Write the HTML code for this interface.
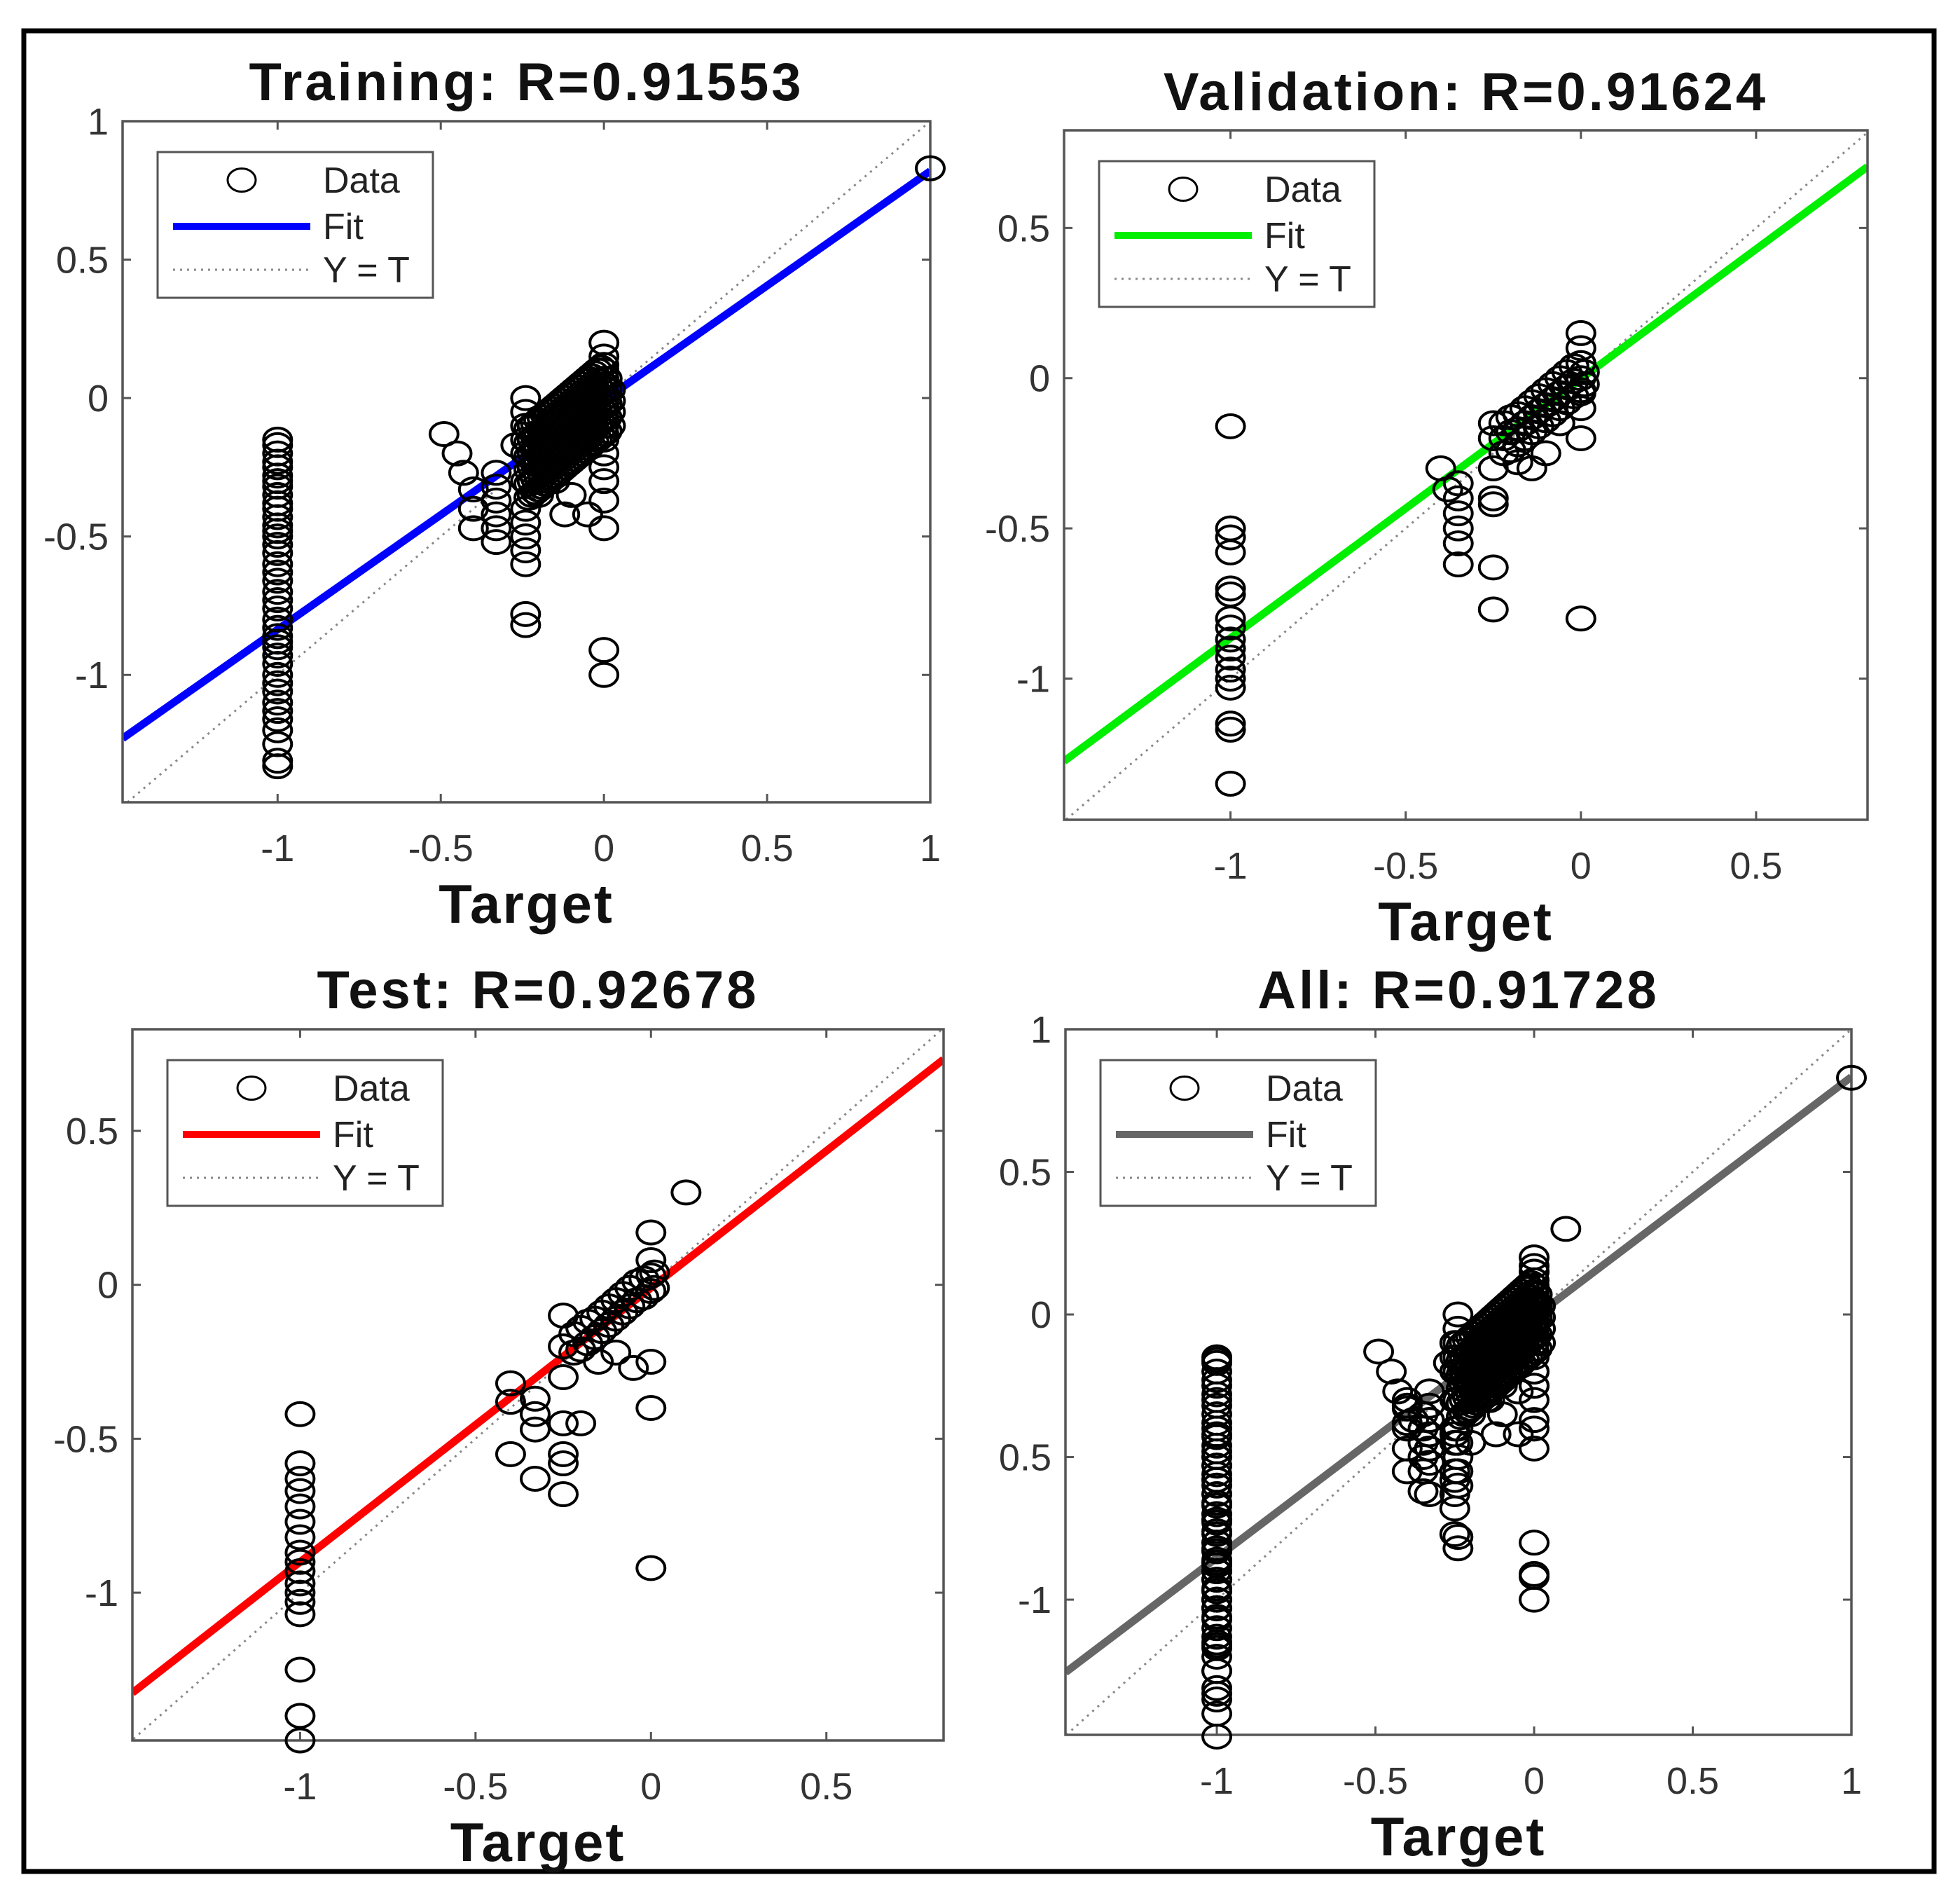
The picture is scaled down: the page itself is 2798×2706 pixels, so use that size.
<!DOCTYPE html>
<html><head><meta charset="utf-8"><style>html,body{margin:0;padding:0;background:#fff}svg{display:block}</style></head>
<body>
<svg id="fig" xmlns="http://www.w3.org/2000/svg" width="2798" height="2706" viewBox="0 0 2798 2706" font-family="Liberation Sans, Arial, sans-serif">
<rect x="0" y="0" width="2798" height="2706" fill="#fff"/>
<rect x="34" y="44" width="2727" height="2627" fill="none" stroke="#000" stroke-width="7"/>
</svg>
<script>
// ---- data ----
const trainPts=[[-1,-0.15],[-1,-0.17],[-1,-0.2],[-1,-0.23],[-1,-0.25],[-1,-0.28],[-1,-0.3],[-1,-0.32],[-1,-0.35],[-1,-0.38],[-1,-0.4],[-1,-0.43],[-1,-0.46],[-1,-0.48],[-1,-0.5],[-1,-0.53],[-1,-0.56],[-1,-0.6],[-1,-0.63],[-1,-0.66],[-1,-0.7],[-1,-0.73],[-1,-0.76],[-1,-0.8],[-1,-0.83],[-1,-0.86],[-1,-0.88],[-1,-0.9],[-1,-0.93],[-1,-0.96],[-1,-1.0],[-1,-1.03],[-1,-1.06],[-1,-1.1],[-1,-1.13],[-1,-1.16],[-1,-1.2],[-1,-1.25],[-1,-1.31],[-1,-1.33],
[-0.49,-0.13],[-0.45,-0.2],[-0.43,-0.27],[-0.4,-0.33],[-0.4,-0.4],[-0.4,-0.47],
[-0.33,-0.27],[-0.33,-0.32],[-0.33,-0.37],[-0.33,-0.42],[-0.33,-0.47],[-0.33,-0.52],
[-0.24,0],[-0.24,-0.05],[-0.24,-0.1],[-0.24,-0.15],[-0.24,-0.2],[-0.24,-0.3],[-0.24,-0.4],[-0.24,-0.45],[-0.24,-0.5],[-0.24,-0.55],[-0.24,-0.6],[-0.24,-0.78],[-0.24,-0.82],
[0,0.2],[0,0.15],[0,0.1],[0,0.05],[0,0],[0,-0.05],[0,-0.1],[0,-0.15],[0,-0.2],[0,-0.25],[0,-0.3],[0,-0.37],[0,-0.47],[0,-0.91],[0,-1.0],
[-0.12,-0.42],[-0.1,-0.35],[-0.05,-0.42],[-0.15,-0.3],[-0.2,-0.35],[-0.27,-0.17],
[1,0.83]];
const trainBlobT=[-0.23,-0.22,-0.21,-0.2,-0.19,-0.18,-0.17,-0.16,-0.15,-0.14,-0.13,-0.12,-0.11,-0.1,-0.09,-0.08,-0.07,-0.06,-0.05,-0.04,-0.03,-0.02,-0.01,0,0.01,0.02];
const trainBlobY=[
[-0.36,-0.31,-0.26,-0.21,-0.16,-0.11],[-0.35,-0.3,-0.25,-0.2,-0.15,-0.1],[-0.34,-0.29,-0.24,-0.19,-0.14,-0.09],[-0.33,-0.28,-0.23,-0.18,-0.13,-0.08],
[-0.32,-0.27,-0.22,-0.17,-0.12,-0.07],[-0.31,-0.26,-0.21,-0.16,-0.11,-0.06],[-0.3,-0.25,-0.2,-0.15,-0.1,-0.05],[-0.29,-0.24,-0.19,-0.14,-0.09,-0.04],
[-0.28,-0.23,-0.18,-0.13,-0.08,-0.03],[-0.27,-0.22,-0.17,-0.12,-0.07,-0.02],[-0.26,-0.21,-0.16,-0.11,-0.06,-0.01],[-0.25,-0.2,-0.15,-0.1,-0.05,0.0],
[-0.24,-0.19,-0.14,-0.09,-0.04,0.01],[-0.23,-0.18,-0.13,-0.08,-0.03,0.02],[-0.22,-0.17,-0.12,-0.07,-0.02,0.03],[-0.21,-0.16,-0.11,-0.06,-0.01,0.04],
[-0.2,-0.15,-0.1,-0.05,0.0,0.05],[-0.19,-0.14,-0.09,-0.04,0.01,0.06],[-0.18,-0.13,-0.08,-0.03,0.02,0.07],[-0.17,-0.12,-0.07,-0.02,0.03,0.08],
[-0.16,-0.11,-0.06,-0.01,0.04,0.09],[-0.15,-0.1,-0.05,0.0,0.05,0.1],[-0.14,-0.09,-0.04,0.01,0.06,0.11],[-0.13,-0.08,-0.03,0.02,0.07,0.12],
[-0.12,-0.07,-0.02,0.03,0.07],[-0.1,-0.05,-0.01,0.03]];
const valPts=[[-1,-0.16],[-1,-0.5],[-1,-0.53],[-1,-0.58],[-1,-0.7],[-1,-0.72],[-1,-0.8],[-1,-0.83],[-1,-0.87],[-1,-0.9],[-1,-0.93],[-1,-0.97],[-1,-1.0],[-1,-1.03],[-1,-1.15],[-1,-1.17],[-1,-1.35],
[-0.4,-0.3],[-0.38,-0.37],[-0.35,-0.35],[-0.35,-0.4],[-0.35,-0.45],[-0.35,-0.5],[-0.35,-0.55],[-0.35,-0.62],[-0.25,-0.63],[-0.25,-0.77],[-0.25,-0.4],[-0.25,-0.42],[-0.25,-0.3],[-0.25,-0.2],[-0.25,-0.15],
[0,-0.8],[0,-0.2],[0,0.15],[0,0.1],[0,0.05],[0,-0.05],[0,-0.1],[-0.18,-0.28],[-0.14,-0.3],[-0.1,-0.25],[-0.06,-0.15]];
const valBlobT=[-0.22,-0.2,-0.18,-0.16,-0.14,-0.12,-0.1,-0.08,-0.06,-0.04,-0.02,0,0.01];
const valBlobY=[[-0.25,-0.2,-0.15],[-0.24,-0.18,-0.13],[-0.22,-0.17,-0.12],[-0.2,-0.15,-0.1],[-0.18,-0.13,-0.08],[-0.16,-0.11,-0.06],[-0.14,-0.09,-0.04],[-0.12,-0.07,-0.02],[-0.1,-0.05,0.0],[-0.08,-0.03,0.02],[-0.06,-0.01,0.04],[-0.04,0.0,0.05],[-0.02,0.02]];
const testPts=[[-1,-0.42],[-1,-0.58],[-1,-0.63],[-1,-0.67],[-1,-0.72],[-1,-0.77],[-1,-0.82],[-1,-0.87],[-1,-0.9],[-1,-0.93],[-1,-0.97],[-1,-1.0],[-1,-1.03],[-1,-1.07],[-1,-1.25],[-1,-1.4],[-1,-1.48],
[-0.4,-0.32],[-0.4,-0.38],[-0.4,-0.55],[-0.33,-0.37],[-0.33,-0.42],[-0.33,-0.47],[-0.33,-0.63],[-0.25,-0.1],[-0.25,-0.2],[-0.25,-0.3],[-0.25,-0.45],[-0.25,-0.55],[-0.25,-0.58],[-0.25,-0.68],[-0.2,-0.45],
[0,-0.4],[0,-0.25],[0,-0.92],[0,0.17],[0.1,0.3],[-0.05,-0.27],[0,0.08],[-0.15,-0.25],[-0.1,-0.22]];
const testBlobT=[-0.22,-0.2,-0.18,-0.16,-0.14,-0.12,-0.1,-0.08,-0.06,-0.04,-0.02,0,0.01];
const testBlobY=[[-0.22,-0.16],[-0.21,-0.14],[-0.19,-0.12],[-0.17,-0.11],[-0.15,-0.09],[-0.13,-0.07],[-0.11,-0.05],[-0.09,-0.03],[-0.07,-0.01],[-0.05,0.01],[-0.04,0.02],[-0.02,0.03],[-0.01,0.04]];
function expand(T,Y){const out=[];T.forEach((t,i)=>Y[i].forEach(y=>out.push([t,y])));return out;}
const trainAll=trainPts.concat(expand(trainBlobT,trainBlobY));
const valAll=valPts.concat(expand(valBlobT,valBlobY));
const testAll=testPts.concat(expand(testBlobT,testBlobY));
const allPts=trainAll.concat(valAll,testAll);

const fitSlope=[0.828,0.863,0.89,0.843];
const fitIntercept=[-0.008,-0.002,-0.01,-0.01];
const fitColors=['#0000ff','#00ee00','#ff0000','#666666'];
const titles=['Training: R=0.91553','Validation: R=0.91624','Test: R=0.92678','All: R=0.91728'];
const xTicks=[[-1,-0.5,0,0.5,1],[-1,-0.5,0,0.5],[-1,-0.5,0,0.5],[-1,-0.5,0,0.5,1]];
const xTickLabels=[['-1','-0.5','0','0.5','1'],['-1','-0.5','0','0.5'],['-1','-0.5','0','0.5'],['-1','-0.5','0','0.5','1']];
const yTicks=[[-1,-0.5,0,0.5,1],[-1,-0.5,0,0.5],[-1,-0.5,0,0.5],[-1,-0.5,0,0.5,1]];
const yTickLabels=[['-1','-0.5','0','0.5','1'],['-1','-0.5','0','0.5'],['-1','-0.5','0','0.5'],['-1','0.5','0','0.5','1']];
const xDomains=[[-1.475,1],[-1.475,0.818],[-1.478,0.834],[-1.477,1]];
const yDomains=[[-1.46,1],[-1.47,0.825],[-1.48,0.83],[-1.474,1]];
const allData=[trainAll,valAll,testAll,allPts];

// layout (pixels)
const boxes=[[175,173,1328,1145],[1519,186,2666,1170],[189,1469,1347,2484],[1521,1469,2643,2476]];
const titleY=[143,157,1439,1439];
const names=['training','validation','test','all'];

const NS='http://www.w3.org/2000/svg';
const svg=document.getElementById('fig');
function mk(tag,attrs,parent){const e=document.createElementNS(NS,tag);for(const k in attrs)e.setAttribute(k,attrs[k]);(parent||svg).appendChild(e);return e;}

for(let p=0;p<4;p++){
  const [x0,y0,x1,y1]=boxes[p];
  const [dx0,dx1]=xDomains[p],[dy0,dy1]=yDomains[p];
  const sx=v=>x0+(v-dx0)/(dx1-dx0)*(x1-x0);
  const sy=v=>y1-(v-dy0)/(dy1-dy0)*(y1-y0);
  const g=mk('g',{});
  
  
  const cp=mk('clipPath',{id:'clip'+p},g);
  mk('rect',{x:x0,y:y0,width:x1-x0,height:y1-y0},cp);
  const bg=mk('rect',{x:x0,y:y0,width:x1-x0,height:y1-y0,fill:'#fff'},g);
  
  
  xTicks[p].forEach((t,i)=>{
    const X=sx(t);
    mk('line',{x1:X,y1:y1,x2:X,y2:y1-12,stroke:'#555','stroke-width':3},g);
    mk('line',{x1:X,y1:y0,x2:X,y2:y0+12,stroke:'#555','stroke-width':3},g);
    const tx=mk('text',{x:X,y:y1+84,'font-size':54,'text-anchor':'middle',fill:'#333'},g);
    tx.textContent=xTickLabels[p][i];
    
    
  });
  yTicks[p].forEach((t,i)=>{
    const Y=sy(t);
    mk('line',{x1:x0,y1:Y,x2:x0+12,y2:Y,stroke:'#555','stroke-width':3},g);
    mk('line',{x1:x1,y1:Y,x2:x1-12,y2:Y,stroke:'#555','stroke-width':3},g);
    const tx=mk('text',{x:x0-20,y:Y+19,'font-size':54,'text-anchor':'end',fill:'#333'},g);
    tx.textContent=yTickLabels[p][i];
    
    
  });
  const cg=mk('g',{'clip-path':'url(#clip'+p+')'},g);
  const yt=mk('line',{x1:sx(-2),y1:sy(-2),x2:sx(2),y2:sy(2),stroke:'#888','stroke-width':3,'stroke-dasharray':'3 7'},cg);
  
  
  const fl=mk('line',{x1:sx(dx0),y1:sy(fitSlope[p]*dx0+fitIntercept[p]),x2:sx(dx1),y2:sy(fitSlope[p]*dx1+fitIntercept[p]),stroke:fitColors[p],'stroke-width':11},cg);
  
  
  const frame=mk('rect',{x:x0,y:y0,width:x1-x0,height:y1-y0,fill:'none',stroke:'#555','stroke-width':3.5},g);
  
  
  allData[p].forEach(d=>{
    const c=mk('ellipse',{cx:sx(d[0]),cy:sy(d[1]),rx:20,ry:16.5,fill:'none',stroke:'#000','stroke-width':4},g);
    
    
  });
  const tt=mk('text',{x:(x0+x1)/2,y:titleY[p],'font-size':76,'font-weight':'bold','text-anchor':'middle','letter-spacing':4,fill:'#111'},g);
  tt.textContent=titles[p];
  
  
  const xl=mk('text',{x:(x0+x1)/2,y:y1+172,'font-size':78,'font-weight':'bold','text-anchor':'middle','letter-spacing':3,fill:'#111'},g);
  xl.textContent='Target';
  
  
  const lx=x0+50,ly=y0+44;
  const lg=mk('g',{},g);
  
  
  mk('rect',{x:lx,y:ly,width:393,height:208,fill:'#fff',stroke:'#555','stroke-width':3},lg);
  mk('ellipse',{cx:lx+120,cy:ly+40,rx:20,ry:16.5,fill:'none',stroke:'#000','stroke-width':3},lg);
  mk('line',{x1:lx+22,y1:ly+106,x2:lx+218,y2:ly+106,stroke:fitColors[p],'stroke-width':10},lg);
  mk('line',{x1:lx+22,y1:ly+168,x2:lx+218,y2:ly+168,stroke:'#888','stroke-width':3,'stroke-dasharray':'3 7'},lg);
  const labs=['Data','Fit','Y = T'],lys=[58,124,186];
  labs.forEach((s,i)=>{
    const t=mk('text',{x:lx+236,y:ly+lys[i],'font-size':52,fill:'#222'},lg);
    t.textContent=s;
    
    
  });
}
</script>
</body></html>
